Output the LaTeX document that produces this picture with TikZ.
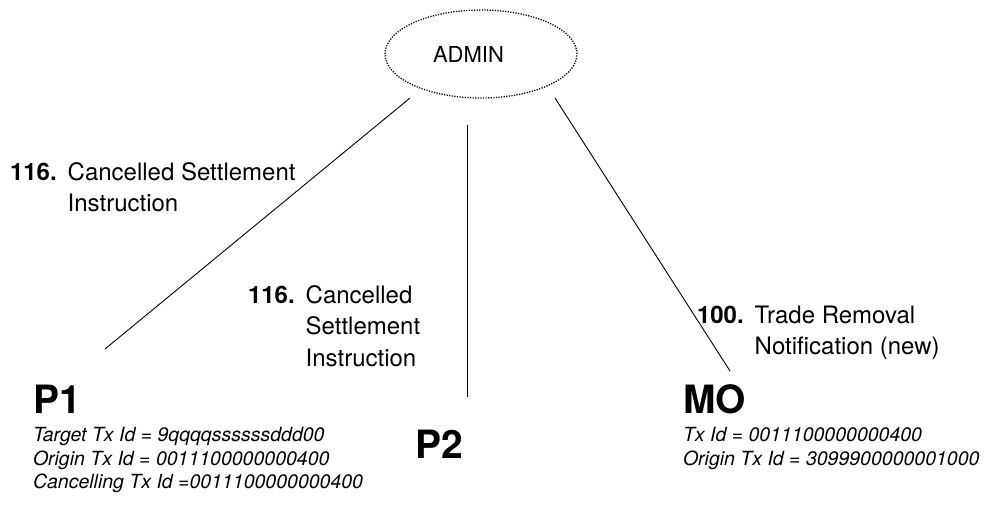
\documentclass[tikz,border=0pt]{standalone}
\usepackage{fontspec}
\setmainfont{TeX Gyre Heros}
\usetikzlibrary{shapes.geometric}
\usetikzlibrary{positioning}
\tikzstyle{role}=[draw, line width=1.3pt, dash pattern=on 1.2pt off 1.4pt, ellipse, inner sep=0,
                  minimum width=192pt, minimum height=88pt, font=\fontsize{22}{22}\selectfont]
\tikzstyle{party}=[inner sep=0, outer sep=0, font=\fontsize{39}{39}\selectfont\bfseries]
\tikzstyle{txinfo}=[inner sep=0, outer sep=0, align=left, font=\fontsize{19.5}{23.8}\selectfont\itshape]
\tikzstyle{msg}=[inner sep=0, outer sep=0, font=\fontsize{24}{31.5}\selectfont]
\tikzstyle{link}=[line width=0.9pt]
\newcommand{\msgtext}[2]{\begin{tabular}{@{}l@{\hspace{11pt}}l@{}}\textbf{#1} & #2\end{tabular}}

\begin{document}
\begin{tikzpicture}[x=1pt, y=-1pt]
        \useasboundingbox (0, 0) rectangle (985, 504);
        % the admin and the three parties
        \node[role] (admin) at (481, 54) {ADMIN\hspace*{25pt}};
        \node[party, anchor=base west] (p1) at (33, 413) {P1};
        \node[party, anchor=base west] (p2) at (415, 458) {P2};
        \node[party, anchor=base west] (mo) at (683, 413) {MO};
        \node[txinfo, anchor=north west] (p1info) at ([yshift=-14pt]p1.south west)
            {Target Tx Id = 9qqqqssssssddd00\\ Origin Tx Id = 0011100000000400\\ Cancelling Tx Id =0011100000000400};
        \node[txinfo, anchor=north west] (moinfo) at ([yshift=-14pt]mo.south west)
            {Tx Id = 0011100000000400\\ Origin Tx Id = 3099900000001000};
        % free ends of the lines
        \coordinate (l1a) at (410, 98);
        \coordinate (l1b) at (105, 349);
        \coordinate (l2a) at (467, 125);
        \coordinate (l2b) at (467, 397);
        \coordinate (l3a) at (555, 98);
        \coordinate (l3b) at (730, 371);
        \draw[link] (l1a) -- (l1b);
        \draw[link] (l2a) -- (l2b);
        \draw[link] (l3a) -- (l3b);
        % message labels
        \node[msg, anchor=north west] (m1) at (10, 158) {\msgtext{116.}{Cancelled Settlement\\ & Instruction}};
        \node[msg, anchor=north west] (m2) at (248, 281) {\msgtext{116.}{Cancelled\\ & Settlement\\ & Instruction}};
        \node[msg, anchor=north west] (m3) at (697, 301) {\msgtext{100.}{Trade Removal\\ & Notification (new)}};
    \end{tikzpicture}
\end{document}
